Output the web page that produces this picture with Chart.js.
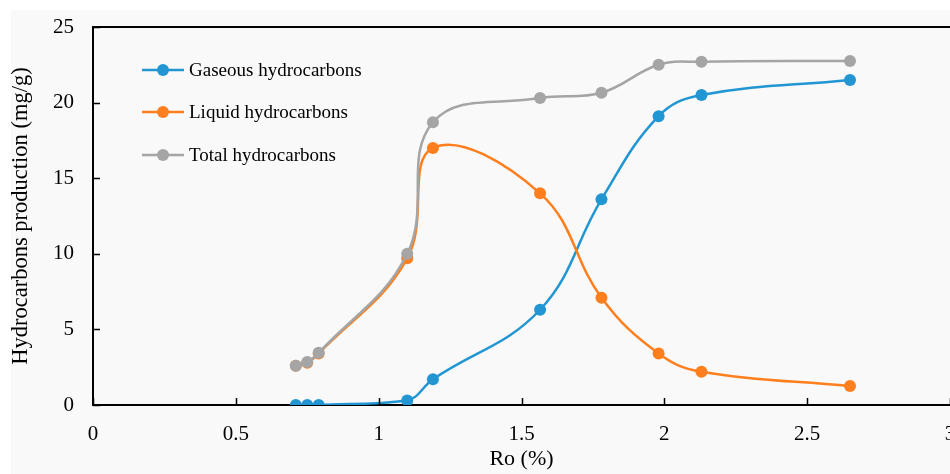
<!DOCTYPE html>
<html>
<head>
<meta charset="utf-8">
<script src="https://cdn.jsdelivr.net/npm/chart.js@4.4.1/dist/chart.umd.min.js"></script>
<style>
  html, body { margin: 0; padding: 0; background: #fff; overflow: hidden; }
  #wrap { width: 950px; height: 474px; overflow: hidden; position: relative; }
  #box { width: 970px; height: 474px; position: absolute; left: 0; top: 0; }
</style>
</head>
<body>
<div id="wrap"><div id="box"><canvas id="chart-hc"></canvas></div></div>
<script>
(function () {
  'use strict';

  // Ro (%) for each sample
  const RO = [0.71, 0.75, 0.79, 1.10, 1.19, 1.565, 1.78, 1.98, 2.13, 2.65];
  const GASEOUS = [0, 0, 0, 0.3, 1.7, 6.3, 13.6, 19.1, 20.5, 21.5];
  const LIQUID = [2.6, 2.8, 3.4, 9.7, 17.0, 14.0, 7.1, 3.4, 2.2, 1.25];
  const TOTAL = [2.6, 2.85, 3.45, 10.0, 18.7, 20.3, 20.65, 22.5, 22.7, 22.75];
  const SERIES_LABELS = ['Gaseous hydrocarbons', 'Liquid hydrocarbons', 'Total hydrocarbons'];
  const SERIES_COLORS = ['#2196d3', '#ff7f1e', '#a5a5a5'];
  const X_TICKS = [0, 0.5, 1, 1.5, 2, 2.5, 3];
  const Y_TICKS = [0, 5, 10, 15, 20, 25];

  const FONT = '"Liberation Serif", "Times New Roman", serif';

  function toPoints(ys) {
    return RO.map(function (x, i) { return { x: x, y: ys[i] }; });
  }

  function makeDataset(label, ys, color, order) {
    return {
      label: label,
      data: toPoints(ys),
      order: order,
      borderColor: color,
      backgroundColor: color,
      borderWidth: 2.5,
      pointRadius: 6,
      pointBorderWidth: 0,
      pointBackgroundColor: color,
      tension: 0.4,
      fill: false
    };
  }

  // light gray panel + top frame line + inward ticks
  var framePlugin = {
    id: 'frame',
    beforeDraw: function (chart) {
      var ctx = chart.ctx;
      ctx.save();
      ctx.fillStyle = '#f9f9f9';
      ctx.fillRect(11, 10, chart.width - 11, chart.height - 10);
      ctx.restore();
    },
    afterDatasetsDraw: function (chart) {
      var ctx = chart.ctx;
      var a = chart.chartArea;
      var xs = chart.scales.x, ys = chart.scales.y;
      ctx.save();
      ctx.strokeStyle = '#000';
      ctx.lineWidth = 2;
      ctx.beginPath();
      ctx.moveTo(a.left - 1, a.top);
      ctx.lineTo(a.right, a.top);
      ctx.stroke();
      ctx.lineWidth = 1.5;
      ctx.beginPath();
      X_TICKS.forEach(function (v) {
        var px = Math.round(xs.getPixelForValue(v)) + 0.5;
        ctx.moveTo(px, a.bottom);
        ctx.lineTo(px, a.bottom - 7);
      });
      Y_TICKS.forEach(function (v) {
        var py = Math.round(ys.getPixelForValue(v)) + 0.5;
        ctx.moveTo(a.left, py);
        ctx.lineTo(a.left + 7, py);
      });
      ctx.stroke();
      ctx.restore();
    }
  };

  // legend inside the plot, stacked
  var legendPlugin = {
    id: 'innerLegend',
    afterDraw: function (chart) {
      var ctx = chart.ctx;
      var rows = [70, 112, 155];
      ctx.save();
      ctx.font = '19px ' + FONT;
      ctx.textBaseline = 'middle';
      ctx.textAlign = 'left';
      chart.data.datasets.forEach(function (ds, i) {
        var y = rows[i];
        ctx.strokeStyle = ds.borderColor;
        ctx.lineWidth = 2.5;
        ctx.beginPath();
        ctx.moveTo(142, y);
        ctx.lineTo(184, y);
        ctx.stroke();
        ctx.fillStyle = ds.borderColor;
        ctx.beginPath();
        ctx.arc(163, y, 6, 0, Math.PI * 2);
        ctx.fill();
        ctx.fillStyle = '#000';
        ctx.fillText(ds.label, 189, y + 1);
      });
      ctx.restore();
    }
  };

  function initChart() {
    if (typeof Chart === 'undefined') return;
    var el = document.getElementById('chart-hc');
    new Chart(el, {
      type: 'line',
      data: {
        datasets: [
          makeDataset(SERIES_LABELS[0], GASEOUS, SERIES_COLORS[0], 3),
          makeDataset(SERIES_LABELS[1], LIQUID, SERIES_COLORS[1], 2),
          makeDataset(SERIES_LABELS[2], TOTAL, SERIES_COLORS[2], 1)
        ]
      },
      options: {
        responsive: true,
        maintainAspectRatio: false,
        animation: false,
        layout: { autoPadding: false, padding: { left: 0, top: 27, right: 20, bottom: 0 } },
        plugins: {
          legend: { display: false },
          tooltip: { enabled: false }
        },
        scales: {
          x: {
            type: 'linear',
            min: 0,
            max: 3,
            afterFit: function (s) {
              s.height = 69;
              s.paddingLeft = 0; s.paddingRight = 0;
            },
            afterBuildTicks: function (s) { s.ticks = X_TICKS.map(function (v) { return { value: v }; }); },
            grid: { display: false, drawTicks: false },
            border: { display: true, color: '#000', width: 2 },
            ticks: {
              color: '#000',
              padding: 17,
              maxRotation: 0,
              font: { family: FONT, size: 21 },
              callback: function (v) { return String(v); }
            },
            title: {
              display: true,
              text: 'Ro (%)',
              color: '#000',
              font: { family: FONT, size: 22 },
              padding: { top: 0, bottom: 2 }
            }
          },
          y: {
            type: 'linear',
            min: 0,
            max: 25,
            afterFit: function (s) {
              s.width = 93;
              s.paddingTop = 0; s.paddingBottom = 0;
            },
            afterBuildTicks: function (s) { s.ticks = Y_TICKS.map(function (v) { return { value: v }; }); },
            grid: { display: false, drawTicks: false },
            border: { display: true, color: '#000', width: 2 },
            ticks: {
              color: '#000',
              padding: 19,
              font: { family: FONT, size: 21 },
              callback: function (v) { return String(v); }
            },
            title: {
              display: true,
              text: 'Hydrocarbons production (mg/g)',
              color: '#000',
              font: { family: FONT, size: 22.5 },
              padding: { top: 8, bottom: 0 }
            }
          }
        }
      },
      plugins: [framePlugin, legendPlugin]
    });
  }

  if (document.readyState === 'loading') {
    document.addEventListener('DOMContentLoaded', initChart);
  } else {
    initChart();
  }
})();
</script>
</body>
</html>
